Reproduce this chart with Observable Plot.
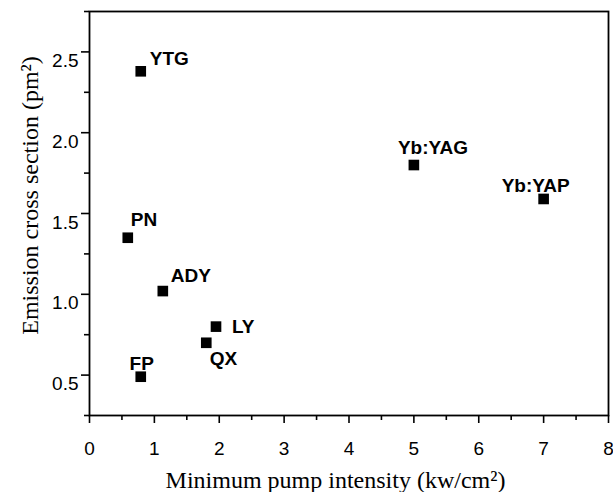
<!DOCTYPE html>
<html>
<head>
<meta charset="utf-8">
<script src="https://cdn.jsdelivr.net/npm/d3@7"></script>
<script src="https://cdn.jsdelivr.net/npm/@observablehq/plot@0.6"></script>
<style>
  html, body { margin: 0; padding: 0; background: #fff; }
</style>
</head>
<body>
<div id="chart"></div>
<script>
// ---- data ----
const names = ["YTG", "PN", "ADY", "LY", "QX", "FP", "Yb:YAG", "Yb:YAP"];
const pumpIntensity = [0.79, 0.59, 1.13, 1.95, 1.80, 0.79, 5.0, 7.0];
const crossSection = [2.38, 1.35, 1.02, 0.80, 0.70, 0.49, 1.80, 1.59];
const xTicks = [0, 1, 2, 3, 4, 5, 6, 7, 8];
const xMinorTicks = [0.5, 1.5, 2.5, 3.5, 4.5, 5.5, 6.5, 7.5];
const yTicks = [0.5, 1.0, 1.5, 2.0, 2.5];
const yMinorTicks = [0.25, 0.75, 1.25, 1.75, 2.25, 2.75];
const xTitle = "Minimum pump intensity (kw/cm²)";
const yTitle = "Emission cross section (pm²)";

const data = names.map((name, i) => ({name, x: pumpIntensity[i], y: crossSection[i]}));

// label placement (styling only)
const placement = {
  "YTG":    {dx: 9,   dy: -12.5, anchor: "start"},
  "PN":     {dx: 3,   dy: -18,   anchor: "start"},
  "ADY":    {dx: 8,   dy: -15,   anchor: "start"},
  "LY":     {dx: 16,  dy: 0.5,   anchor: "start"},
  "QX":     {dx: 3.5, dy: 16,    anchor: "start"},
  "FP":     {dx: 1,   dy: -12.5, anchor: "middle"},
  "Yb:YAG": {dx: -16, dy: -17.5, anchor: "start"},
  "Yb:YAP": {dx: -42, dy: -13.5, anchor: "start"}
};

const sans = "'Liberation Sans', Arial, sans-serif";
const serif = "'Liberation Serif', 'Times New Roman', serif";

const labelMarks = names.map(n => Plot.text(data.filter(d => d.name === n), {
  x: "x", y: "y", text: "name",
  dx: placement[n].dx, dy: placement[n].dy,
  textAnchor: placement[n].anchor,
  fontFamily: sans, fontWeight: "bold", fontSize: 19, fill: "black"
}));

const chart = Plot.plot({
  width: 613,
  height: 492,
  marginTop: 11,
  marginRight: 5,
  marginBottom: 77,
  marginLeft: 89,
  style: {background: "#fff", color: "black", fontFamily: sans},
  x: {domain: [0, 8]},
  y: {domain: [0.25, 2.75]},
  marks: [
    Plot.axisX({ticks: xTicks, tickSize: 8, tickPadding: 18, strokeWidth: 1.6,
                fontSize: 19, fontFamily: sans, label: null, tickFormat: d3.format("d")}),
    Plot.axisX({ticks: xMinorTicks, tickSize: 5, strokeWidth: 1.6, text: null, label: null}),
    Plot.axisY({ticks: yTicks, tickSize: 8, strokeWidth: 1.6, text: null, label: null}),
    Plot.axisY({ticks: yTicks, tickSize: 0, tickPadding: 11, dy: 9,
                fontSize: 19, fontFamily: sans, label: null, tickFormat: d3.format(".1f")}),
    Plot.axisY({ticks: yMinorTicks, tickSize: 5, strokeWidth: 1.6, text: null, label: null}),
    Plot.frame({stroke: "black", strokeWidth: 1.8}),
    Plot.dot(data, {x: "x", y: "y", symbol: "square", r: 6, fill: "black", stroke: "none"}),
    ...labelMarks,
    Plot.text([xTitle], {frameAnchor: "bottom", dx: -13.5, dy: 65, text: d => d,
                         textAnchor: "middle", lineAnchor: "middle",
                         fontFamily: serif, fontSize: 24, fill: "black"}),
    Plot.text([yTitle], {frameAnchor: "left", rotate: -90, dx: -59.5, dy: -18, text: d => d,
                         textAnchor: "middle", lineAnchor: "middle",
                         fontFamily: serif, fontSize: 24, fill: "black"})
  ]
});
document.getElementById("chart").appendChild(chart);
</script>
</body>
</html>
